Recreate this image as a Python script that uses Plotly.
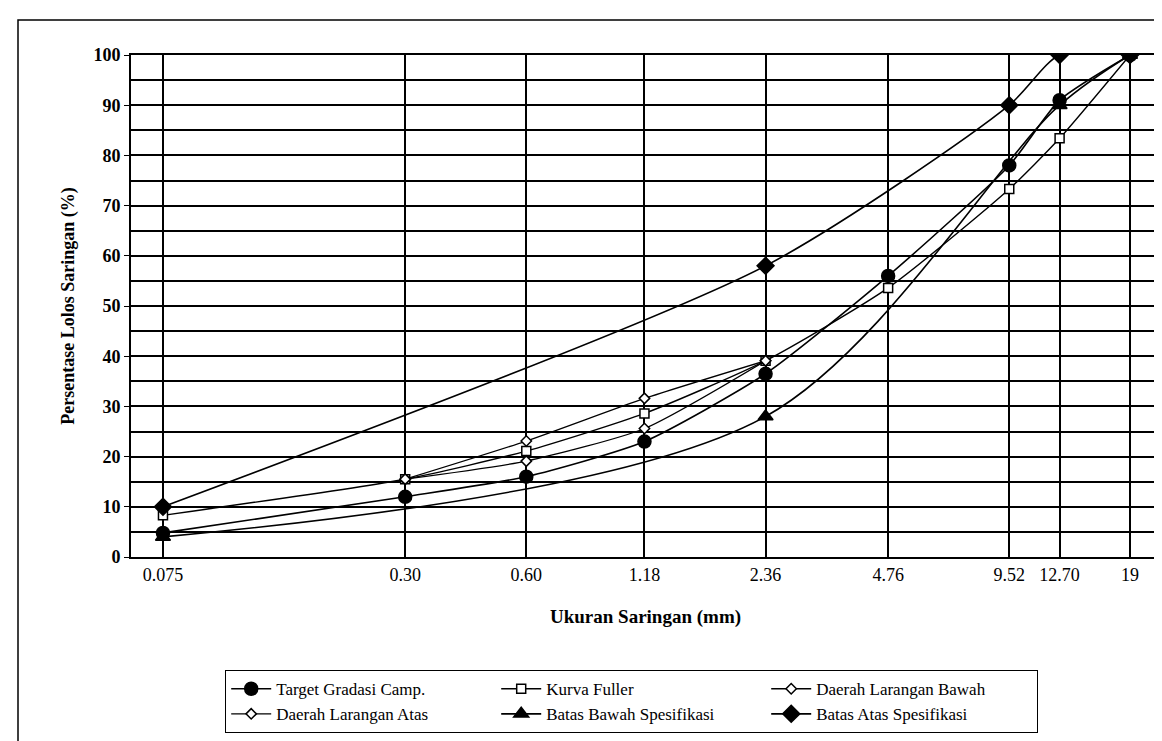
import math
import plotly.graph_objects as go

# ---- data ----
sieve_labels = ["0.075", "0.30", "0.60", "1.18", "2.36", "4.76", "9.52", "12.70", "19"]
sieve_mm = [0.075, 0.30, 0.60, 1.18, 2.36, 4.76, 9.52, 12.70, 19.0]

target_pct = [4.8, 12.0, 16.0, 23.0, 36.5, 56.0, 78.0, 91.0, 100.0]
fuller_pct = [8.3, 15.5, 21.1, 28.6, 39.1, 53.6, 73.3, 83.4, 100.0]

zone_sieve = [0.30, 0.60, 1.18, 2.36]
zone_low_pct = [15.5, 19.1, 25.6, 39.1]
zone_high_pct = [15.5, 23.1, 31.6, 39.1]

lower_sieve = [0.075, 2.36, 12.70, 19.0]
lower_pct = [4.0, 28.0, 90.0, 100.0]

upper_sieve = [0.075, 2.36, 9.52, 12.70, 19.0]
upper_pct = [10.0, 58.0, 90.0, 100.0, 100.0]

FONT = "Liberation Serif, Times New Roman, serif"
BLACK = "black"

fig = go.Figure()

def add(name, xs, ys, symbol, size, filled, width=1.6, smooth=0.6):
    fig.add_trace(go.Scatter(
        x=xs, y=ys, name=name, mode="lines+markers",
        line=dict(color=BLACK, width=width, shape="spline", smoothing=smooth),
        marker=dict(symbol=symbol, size=size,
                    color=BLACK if filled else "white",
                    line=dict(color=BLACK, width=1.5)),
    ))

add("Target Gradasi Camp.", sieve_mm, target_pct, "circle", 13, True)
add("Kurva Fuller", sieve_mm, fuller_pct, "square", 9, False, width=1.4)
add("Daerah Larangan Bawah", zone_sieve, zone_low_pct, "diamond", 8, False, width=1.3)
add("Daerah Larangan Atas", zone_sieve, zone_high_pct, "diamond", 8, False, width=1.3)
add("Batas Bawah Spesifikasi", lower_sieve, lower_pct, "triangle-up", 13, True, smooth=0.9)
add("Batas Atas Spesifikasi", upper_sieve, upper_pct, "diamond", 13, True, smooth=0.7)

L, R, T, B = 123, 10, 47, 192
W, H = 1162, 741
pw, ph = W - L - R, H - T - B

x_lo = math.log10(0.075) - 0.0795
x_hi = x_lo + 2.5578

fig.update_xaxes(
    type="log", range=[x_lo, x_hi],
    tickmode="array", tickvals=sieve_mm, ticktext=sieve_labels,
    showgrid=True, gridcolor=BLACK, gridwidth=1.5,
    showline=True, linecolor=BLACK, linewidth=2, mirror=True,
    ticks="", zeroline=False,
    tickfont=dict(family=FONT, size=18, color=BLACK),
    title=dict(text="Ukuran Saringan (mm)", standoff=26,
               font=dict(family=FONT, size=19, color=BLACK, weight="bold")),
)
fig.update_yaxes(
    range=[0, 100], dtick=10, tick0=0,
    showgrid=True, gridcolor=BLACK, gridwidth=2,
    minor=dict(dtick=5, showgrid=True, gridcolor=BLACK, gridwidth=2),
    showline=True, linecolor=BLACK, linewidth=2, mirror=True,
    ticks="outside", ticklen=5, tickcolor=BLACK, zeroline=False,
    tickfont=dict(family=FONT, size=18, color=BLACK, weight="bold"),
    title=dict(text="Persentase Lolos Saringan (%)", standoff=14,
               font=dict(family=FONT, size=18, color=BLACK, weight="bold")),
)

# outer chart frame
fig.add_shape(type="rect", xref="paper", yref="paper",
              x0=(10 - L) / pw, x1=(1158 - L) / pw,
              y0=(T + ph - 737) / ph, y1=(T + ph - 12) / ph,
              line=dict(color=BLACK, width=1.5), fillcolor="rgba(0,0,0,0)",
              layer="below")

fig.update_layout(
    width=W, height=H,
    margin=dict(l=L, r=R, t=T, b=B, autoexpand=False),
    paper_bgcolor="white", plot_bgcolor="white",
    font=dict(family=FONT, color=BLACK),
    showlegend=True,
    legend=dict(
        orientation="h", x=(217 - L) / pw, xanchor="left",
        y=(T + ph - 662) / ph, yanchor="top",
        entrywidth=215, entrywidthmode="pixels",
        bordercolor=BLACK, borderwidth=1.2, bgcolor="white",
        font=dict(family=FONT, size=17, color=BLACK),
        itemwidth=40, tracegroupgap=0,
    ),
)

fig.write_html("out.html")
